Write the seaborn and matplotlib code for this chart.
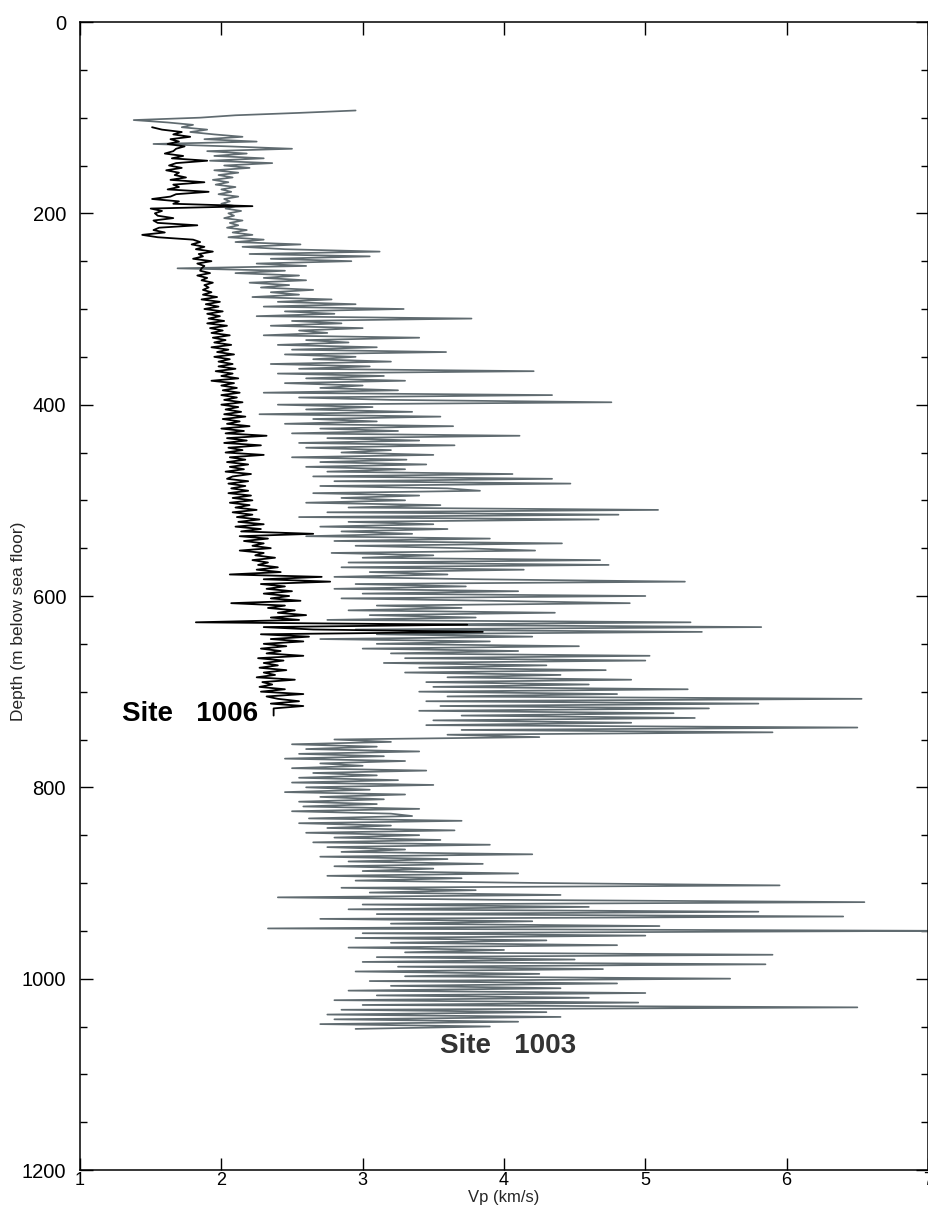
"""Vp logs versus depth for ODP Sites 1003 and 1006."""
import matplotlib
matplotlib.use("Agg")
import matplotlib.pyplot as plt
import numpy as np
import pandas as pd
import seaborn as sns
from matplotlib import font_manager
from matplotlib.ticker import MultipleLocator

# ---- Site 1003 (grey): Vp sampled every 2.5 m ----
site1003_depth = np.arange(92.5, 1055.0, 2.5)
site1003_vp = [
    2.95, 2.55, 2.10, 1.85, 1.38, 1.62, 1.80, 1.72, 1.90, 1.78,
    1.95, 2.15, 1.88, 2.25, 1.52, 2.05, 2.50, 1.90, 2.18, 1.95,
    2.30, 1.92, 2.36, 2.02, 2.20, 1.95, 2.12, 1.98, 2.08, 1.94,
    2.05, 1.96, 2.10, 2.00, 2.07, 1.98, 2.12, 2.02, 2.06, 2.00,
    2.10, 2.03, 2.14, 2.05, 2.09, 2.02, 2.15, 2.06, 2.12, 2.04,
    2.18, 2.08, 2.22, 2.05, 2.30, 2.10, 2.56, 2.15, 2.45, 3.12,
    2.20, 3.05, 2.35, 2.92, 2.25, 2.60, 1.69, 2.45, 2.10, 2.55,
    2.30, 2.60, 2.20, 2.48, 2.28, 2.65, 2.35, 2.55, 2.22, 2.78,
    2.40, 2.95, 2.30, 3.29, 2.45, 2.80, 2.25, 3.77, 2.50, 2.85,
    2.35, 3.00, 2.55, 2.75, 2.30, 3.40, 2.60, 2.90, 2.40, 3.10,
    2.50, 3.59, 2.45, 2.95, 2.65, 3.20, 2.35, 3.05, 2.55, 4.21,
    2.40, 3.15, 2.60, 3.30, 2.45, 3.00, 2.70, 3.25, 2.30, 4.34,
    2.55, 3.20, 4.76, 2.40, 3.07, 2.60, 3.35, 2.27, 3.55, 2.65,
    3.10, 2.45, 3.64, 2.70, 3.25, 2.50, 4.11, 2.75, 3.40, 2.55,
    3.65, 2.60, 3.20, 2.85, 3.50, 2.50, 3.31, 2.70, 3.45, 2.60,
    3.30, 2.75, 4.06, 2.65, 4.34, 2.80, 4.47, 2.70, 3.60, 3.83,
    2.65, 3.40, 2.85, 3.30, 2.60, 3.55, 2.90, 5.09, 2.75, 4.81,
    2.55, 4.67, 2.90, 3.50, 2.70, 3.60, 2.85, 3.35, 2.60, 3.90,
    2.80, 4.41, 2.95, 3.70, 4.22, 2.78, 3.50, 3.00, 4.68, 2.90,
    4.74, 2.85, 4.14, 3.05, 3.60, 2.80, 3.80, 5.28, 2.95, 3.73,
    2.80, 4.10, 3.00, 5.00, 2.85, 3.90, 4.89, 3.10, 3.70, 2.90,
    4.36, 3.05, 3.80, 2.75, 5.32, 3.20, 5.82, 2.95, 5.40, 3.10,
    4.20, 2.70, 3.90, 3.10, 4.53, 3.00, 4.10, 3.20, 5.03, 3.30,
    5.00, 3.15, 4.30, 3.40, 4.72, 3.30, 4.40, 3.60, 4.90, 3.45,
    4.60, 3.50, 5.30, 3.40, 4.80, 3.60, 6.53, 3.45, 5.80, 3.55,
    5.45, 3.40, 5.20, 3.70, 5.35, 3.50, 4.90, 3.45, 6.50, 3.70,
    5.90, 3.60, 4.25, 2.80, 3.20, 2.50, 3.10, 2.60, 3.40, 2.55,
    3.15, 2.45, 3.30, 2.70, 3.00, 2.50, 3.45, 2.65, 3.10, 2.55,
    3.25, 2.50, 3.50, 2.60, 3.05, 2.45, 3.30, 2.70, 3.15, 2.55,
    3.10, 2.58, 3.40, 2.50, 3.20,
    3.35, 2.62, 3.70, 2.55, 3.20, 2.75, 3.65, 2.60, 3.40, 2.80,
    3.55, 2.65, 3.90, 2.75, 3.30, 2.85, 4.20, 2.70, 3.60, 2.90,
    3.85, 2.80, 3.50, 3.00, 4.10, 2.75, 3.70, 2.95, 4.25, 5.95,
    2.85, 3.80, 3.05, 4.40, 2.40, 3.90, 6.55, 3.00, 4.60, 2.90,
    5.80, 3.10, 6.40, 2.70, 4.20, 3.20, 5.10, 2.33, 7.10, 3.00,
    5.00, 2.95, 4.30, 3.20, 4.80, 2.90, 4.00, 3.30, 5.90, 3.10,
    4.50, 3.00, 5.85, 3.25, 4.70, 2.95, 4.25, 3.30, 5.60, 3.05,
    4.80, 3.20, 4.40, 2.90, 5.00, 3.10, 4.60, 2.80, 4.95, 3.00,
    6.50, 2.85, 4.30, 2.75, 4.40, 2.80, 4.10, 2.70, 3.90, 2.95,
]

# ---- Site 1006 (black): Vp sampled every 2.5 m ----
site1006_depth = np.arange(110.0, 727.5, 2.5)
site1006_vp = [
    1.51, 1.58, 1.72, 1.66, 1.78, 1.64, 1.70, 1.62, 1.74, 1.68,
    1.66, 1.60, 1.73, 1.65, 1.90, 1.68, 1.63, 1.72, 1.61, 1.70,
    1.67, 1.75, 1.64, 1.88, 1.66, 1.70, 1.62, 1.91, 1.68, 1.64,
    1.51, 1.70, 1.66, 2.22, 1.50, 1.58, 1.53, 1.55, 1.66, 1.52,
    1.55, 1.83, 1.56, 1.52, 1.60, 1.44, 1.55, 1.80, 1.85, 1.79,
    1.88, 1.82, 1.94, 1.84, 1.87, 1.80, 1.93, 1.83, 1.88, 1.86,
    1.85, 1.92, 1.83, 1.90, 1.86, 1.94, 1.88, 1.91, 1.87, 1.93,
    1.87, 1.97, 1.86, 1.99, 1.89, 1.98, 1.88, 2.01, 1.90, 1.99,
    1.91, 2.02, 1.90, 2.04, 1.92, 2.01, 1.93, 2.06, 1.94, 2.03,
    1.95, 2.07, 1.93, 2.05, 1.97, 2.09, 1.95, 2.06, 1.98, 2.08,
    1.98, 2.10, 1.96, 2.08, 2.00, 2.12, 1.93, 2.09, 2.00, 2.11,
    2.01, 2.13, 2.00, 2.11, 2.02, 2.15, 2.00, 2.12, 2.03, 2.14,
    2.02, 2.17, 2.01, 2.13, 2.04, 2.20, 2.00, 2.16, 2.03, 2.32,
    2.04, 2.18, 2.02, 2.28, 2.05, 2.15, 2.03, 2.30, 2.06, 2.17,
    2.04, 2.19, 2.06, 2.16, 2.03, 2.21, 2.08, 2.04, 2.19, 2.05,
    2.17, 2.07, 2.19, 2.05, 2.21,
    2.08, 2.22, 2.06, 2.20, 2.10, 2.25, 2.08, 2.22, 2.11, 2.27,
    2.12, 2.30, 2.10, 2.28, 2.14, 2.65, 2.13, 2.33, 2.16, 2.30,
    2.22, 2.35, 2.13, 2.30, 2.24, 2.38, 2.22, 2.33, 2.26, 2.40,
    2.25, 2.42, 2.06, 2.71, 2.30, 2.77, 2.28, 2.45, 2.32, 2.50,
    2.30, 2.48, 2.35, 2.56, 2.07, 2.45, 2.33, 2.52, 2.40, 2.60,
    2.35, 2.55, 1.82, 3.74, 2.30, 2.65, 3.85, 2.28, 2.62, 2.35,
    2.58, 2.30, 2.46, 2.28, 2.42, 2.32, 2.58, 2.26, 2.44, 2.30,
    2.40, 2.27, 2.46, 2.30, 2.38, 2.25, 2.52, 2.29, 2.36, 2.27,
    2.45, 2.28, 2.58, 2.32, 2.40, 2.55, 2.35, 2.58, 2.37, 2.37,
    2.37, 2.37,
]

x_ticks = [1, 2, 3, 4, 5, 6, 7]
y_ticks = [0, 200, 400, 600, 800, 1000, 1200]

GREY = "#606b70"

sns.set_theme(style="ticks")
plt.rcParams["font.family"] = ["Liberation Sans", "DejaVu Sans"]
available = {f.name for f in font_manager.fontManager.ttflist}
narrow = "Liberation Sans Narrow" if "Liberation Sans Narrow" in available else "Liberation Sans"

df1003 = pd.DataFrame({"vp": site1003_vp, "depth": site1003_depth})
df1006 = pd.DataFrame({"vp": site1006_vp, "depth": site1006_depth})

fig = plt.figure(figsize=(9.29, 12.06), dpi=100)
# axes box: x 80..928 px, y 22..1170 px
ax = fig.add_axes([80 / 929, 36 / 1206, 848 / 929, 1148 / 1206])

sns.lineplot(data=df1003, x="vp", y="depth", sort=False, estimator=None,
             color=GREY, linewidth=1.25, ax=ax)
sns.lineplot(data=df1006, x="vp", y="depth", sort=False, estimator=None,
             color="black", linewidth=1.3, ax=ax)

ax.set_xlim(1, 7)
ax.set_ylim(1200, 0)
ax.set_xticks(x_ticks)
ax.set_yticks(y_ticks)
ax.yaxis.set_minor_locator(MultipleLocator(50))
ax.tick_params(which="both", direction="in", top=True, right=True, colors="black")
ax.tick_params(which="major", length=9, width=1.0)
ax.tick_params(which="minor", length=5, width=1.0)
ax.tick_params(axis="y", labelsize=14.5, pad=10)
ax.tick_params(axis="x", labelsize=13, pad=1.5)
for lab in ax.get_xticklabels():
    lab.set_family(narrow)
for sp in ax.spines.values():
    sp.set_linewidth(1.1)
    sp.set_color("black")

ax.set_xlabel("Vp (km/s)", fontsize=12, family=narrow, va="bottom")
ax.xaxis.set_label_coords(0.5, -0.0305)
ax.set_ylabel("Depth (m below sea floor)", fontsize=12.5)
ax.yaxis.set_label_coords(-0.064, 0.478)

ax.text(1.30, 723, "Site   1006", fontsize=20, fontweight="bold",
        color="black", ha="left", va="center")
ax.text(3.55, 1070, "Site   1003", fontsize=20, fontweight="bold",
        color="#333333", ha="left", va="center")

fig.savefig("out.png", dpi=100)
